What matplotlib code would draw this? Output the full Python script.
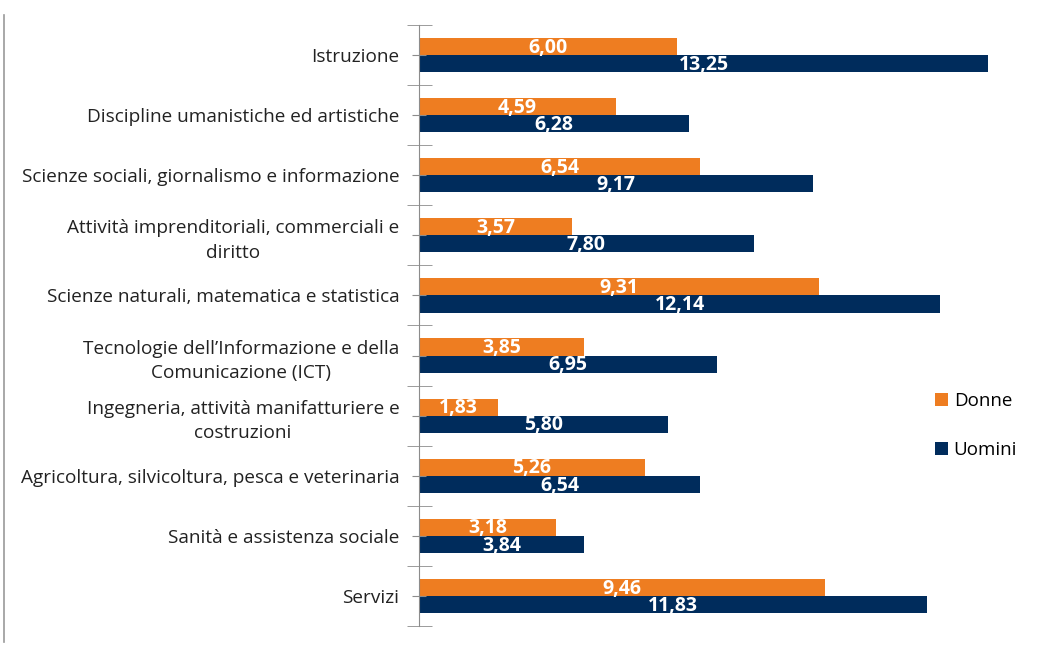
import matplotlib
matplotlib.use("Agg")
import matplotlib.pyplot as plt
from matplotlib.lines import Line2D
import numpy as np

# Data
categories = [
    "Istruzione",
    "Discipline umanistiche ed artistiche",
    "Scienze sociali, giornalismo e informazione",
    "Attività imprenditoriali, commerciali e\ndiritto",
    "Scienze naturali, matematica e statistica",
    "Tecnologie dell\u2019Informazione e della\nComunicazione (ICT)",
    "Ingegneria, attività manifatturiere e\ncostruzioni",
    "Agricoltura, silvicoltura, pesca e veterinaria",
    "Sanità e assistenza sociale",
    "Servizi",
]
donne = [6.00, 4.59, 6.54, 3.57, 9.31, 3.85, 1.83, 5.26, 3.18, 9.46]
uomini = [13.25, 6.28, 9.17, 7.80, 12.14, 6.95, 5.80, 6.54, 3.84, 11.83]
series_names = ["Donne", "Uomini"]

orange = "#EE7D21"
navy = "#002C5C"
grey = "#8C8C8C"

plt.rcParams["font.family"] = ["Open Sans", "DejaVu Sans"]

fig = plt.figure(figsize=(10.51, 6.49), dpi=100)
W, H = 1051, 649
ax = fig.add_axes([419 / W, 1 - 626 / H, (988 - 419) / W, (626 - 25) / H])

y = np.arange(len(categories))
h = 0.285
b1 = ax.barh(y - h / 2, donne, height=h, color=orange, label=series_names[0])
b2 = ax.barh(y + h / 2, uomini, height=h, color=navy, label=series_names[1])

for bars, vals in ((b1, donne), (b2, uomini)):
    for bar, v in zip(bars, vals):
        ax.text(bar.get_width() / 2, bar.get_y() + bar.get_height() / 2 + 0.02,
                f"{v:.2f}".replace(".", ","), ha="center", va="center",
                color="white", fontsize=14, fontweight="bold")

ax.set_xlim(0, 13.25)
ax.set_ylim(len(categories) - 0.5, -0.5)
ax.set_yticks(y)
ax.set_yticklabels(categories, fontsize=13.7, color="#222222",
                   multialignment="center", linespacing=1.45)
ax.set_yticks(np.arange(len(categories) + 1) - 0.5, minor=True)
ax.tick_params(axis="y", which="major", direction="inout", length=10,
               color=grey, pad=9)
ax.tick_params(axis="y", which="minor", direction="inout", length=18,
               color=grey)
ax.set_xticks([])
for s in ("top", "right", "bottom"):
    ax.spines[s].set_visible(False)
ax.spines["left"].set_color(grey)

fig.legend(handles=[b1, b2], labels=series_names, loc="upper left",
           bbox_to_anchor=(918 / W, 1 - 375 / H), frameon=False,
           fontsize=13.5, handlelength=0.7, handleheight=0.7,
           handletextpad=0.3, labelspacing=1.65)

# thin frame line at the left edge of the original picture
fig.add_artist(Line2D([4 / W, 4 / W], [1 - 15 / H, 1 - 642 / H],
                      color="#9A9A9A", lw=1.2))

fig.savefig("out.png", dpi=100)
